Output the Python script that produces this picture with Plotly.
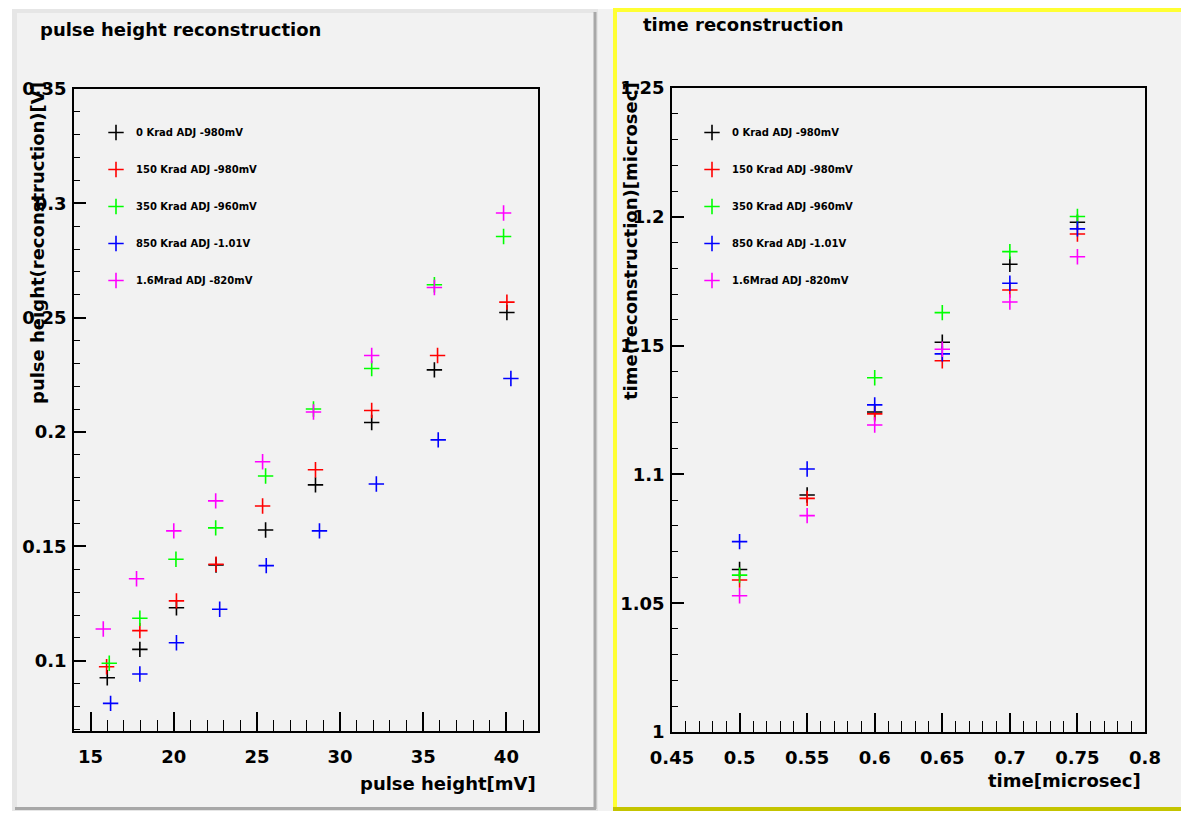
import plotly.graph_objects as go

W, H = 1189, 814
OFF = 8  # page body margin of the html page

# ---------------- data ----------------
series_names = ["0 Krad ADJ -980mV", "150 Krad ADJ -980mV", "350 Krad ADJ -960mV",
                "850 Krad ADJ -1.01V", "1.6Mrad ADJ -820mV"]
series_colors = ["#000000", "#ff0000", "#00ff00", "#0000ff", "#ff00ff"]

# pulse height reconstruction (x: pulse height [mV], y: reconstructed [V])
ph_black_x = [16.0, 17.96, 20.16, 22.54, 25.52, 28.52, 31.9, 35.67, 40.03]
ph_black_y = [0.0926, 0.1050, 0.1232, 0.1419, 0.1572, 0.1769, 0.2042, 0.2272, 0.2523]
ph_red_x = [15.96, 17.96, 20.16, 22.54, 25.34, 28.52, 31.9, 35.86, 40.03]
ph_red_y = [0.0974, 0.1132, 0.1262, 0.1422, 0.1677, 0.1835, 0.2094, 0.2335, 0.2568]
ph_green_x = [16.12, 17.96, 20.13, 22.52, 25.52, 28.4, 31.9, 35.67, 39.83]
ph_green_y = [0.0989, 0.1186, 0.1444, 0.1581, 0.1808, 0.2101, 0.2278, 0.2644, 0.2855]
ph_blue_x = [16.2, 17.96, 20.16, 22.76, 25.56, 28.76, 32.18, 35.9, 40.27]
ph_blue_y = [0.0814, 0.0942, 0.1079, 0.1225, 0.1416, 0.1568, 0.1773, 0.1966, 0.2234]
ph_magenta_x = [15.76, 17.76, 20.0, 22.52, 25.34, 28.4, 31.9, 35.67, 39.83]
ph_magenta_y = [0.1139, 0.1359, 0.1568, 0.1699, 0.1870, 0.2088, 0.2335, 0.2632, 0.2958]

# time reconstruction (x: time [microsec], y: reconstructed [microsec])
time_x = [0.5, 0.55, 0.6, 0.65, 0.7, 0.75]
t_black_y = [1.0631, 1.0920, 1.1242, 1.1513, 1.1816, 1.1979]
t_red_y = [1.0590, 1.0907, 1.1235, 1.1441, 1.1716, 1.1933]
t_green_y = [1.0609, None, 1.1375, 1.1628, 1.1865, 1.2001]
t_blue_y = [1.0739, 1.1021, 1.1270, 1.1468, 1.1742, 1.1953]
t_magenta_y = [1.0529, 1.0840, 1.1192, 1.1486, 1.1669, 1.1845]

ph_x_range = [14.0, 41.9]
ph_y_range = [0.0693, 0.35]
t_x_range = [0.45, 0.8]
t_y_range = [1.0, 1.25]

# ---------------- helpers ----------------
def fx(px):
    return (px - OFF) / W

def fy(py):
    return 1 - (py - OFF) / H

FONT = "DejaVu Sans, Verdana, sans-serif"

fig = go.Figure()

ph_sets = [(ph_black_x, ph_black_y), (ph_red_x, ph_red_y), (ph_green_x, ph_green_y),
           (ph_blue_x, ph_blue_y), (ph_magenta_x, ph_magenta_y)]
t_sets = [t_black_y, t_red_y, t_green_y, t_blue_y, t_magenta_y]

def mk(color):
    return dict(symbol="cross-thin", size=11, color=color,
                line=dict(color=color, width=1.6))

for i, (xs, ys) in enumerate(ph_sets):
    fig.add_trace(go.Scatter(x=xs, y=ys, mode="markers", name=series_names[i],
                             marker=mk(series_colors[i]), xaxis="x", yaxis="y",
                             legend="legend", legendgroup="a%d" % i))
for i, ys in enumerate(t_sets):
    fig.add_trace(go.Scatter(x=time_x, y=ys, mode="markers", name=series_names[i],
                             marker=mk(series_colors[i]), xaxis="x2", yaxis="y2",
                             legend="legend2", legendgroup="b%d" % i))

tickfont = dict(family=FONT, size=18, color="#000000", weight="bold")

def xaxis(dom, rng, dtick, mdtick, anchor, tick0):
    return dict(domain=dom, range=rng, dtick=dtick, tick0=tick0,
                ticks="inside", ticklen=19, tickwidth=1.5, tickcolor="#000",
                minor=dict(ticks="inside", ticklen=11, dtick=mdtick, tickwidth=1.3, tickcolor="#000"),
                showgrid=False, zeroline=False, showline=True, linecolor="#000", linewidth=1.5,
                mirror=True, tickfont=tickfont, anchor=anchor, ticklabelstandoff=9,
                automargin=False, fixedrange=True)

def yaxis(dom, rng, dtick, mdtick, anchor):
    return dict(domain=dom, range=rng, dtick=dtick, tick0=0,
                ticks="inside", ticklen=12, tickwidth=1.5, tickcolor="#000",
                minor=dict(ticks="inside", ticklen=6, dtick=mdtick, tickwidth=1.3, tickcolor="#000"),
                showgrid=False, zeroline=False, showline=True, linecolor="#000", linewidth=1.5,
                mirror=True, tickfont=tickfont, anchor=anchor, ticklabelstandoff=2,
                automargin=False, fixedrange=True)

xa1 = xaxis([fx(74), fx(538)], ph_x_range, 5, 1, "y", 15)
ya1 = yaxis([fy(731), fy(89)], ph_y_range, 0.05, 0.01, "x")
xa2 = xaxis([fx(672), fx(1145)], t_x_range, 0.05, 0.01, "y2", 0.45)
ya2 = yaxis([fy(732), fy(88)], t_y_range, 0.05, 0.01, "x2")

PAD = "#f2f2f2"
shapes = [
    dict(type="rect", xref="paper", yref="paper", x0=0, x1=1, y0=fy(9), y1=1,
         fillcolor="#ffffff", line=dict(width=0), layer="below"),
    dict(type="rect", xref="paper", yref="paper", x0=0, x1=fx(12), y0=0, y1=1,
         fillcolor="#ffffff", line=dict(width=0), layer="below"),
    dict(type="rect", xref="paper", yref="paper", x0=0, x1=1, y0=0, y1=fy(811),
         fillcolor="#ffffff", line=dict(width=0), layer="below"),
    dict(type="rect", xref="paper", yref="paper", x0=fx(12), x1=fx(598), y0=fy(811), y1=fy(9),
         fillcolor="#e6e6e6", line=dict(width=0), layer="below"),
    dict(type="rect", xref="paper", yref="paper", x0=fx(17), x1=fx(594), y0=fy(807), y1=fy(13),
         fillcolor=PAD, line=dict(width=0), layer="below"),
    dict(type="line", xref="paper", yref="paper", x0=fx(595), x1=fx(595), y0=fy(809), y1=fy(12),
         line=dict(color="#a8a8a8", width=3), layer="below"),
    dict(type="line", xref="paper", yref="paper", x0=fx(15), x1=fx(596), y0=fy(808.5), y1=fy(808.5),
         line=dict(color="#a8a8a8", width=3), layer="below"),
    dict(type="rect", xref="paper", yref="paper", x0=fx(613), x1=1, y0=fy(811), y1=fy(8),
         fillcolor=PAD, line=dict(width=0), layer="below"),
    dict(type="line", xref="paper", yref="paper", x0=fx(615), x1=fx(615), y0=fy(811), y1=fy(8),
         line=dict(color="#ffff33", width=4), layer="below"),
    dict(type="line", xref="paper", yref="paper", x0=fx(613), x1=1, y0=fy(10), y1=fy(10),
         line=dict(color="#ffff33", width=4), layer="below"),
    dict(type="line", xref="paper", yref="paper", x0=fx(613), x1=1, y0=fy(809), y1=fy(809),
         line=dict(color="#c4c400", width=4), layer="below"),
]

tfont = dict(family=FONT, size=18, color="#000", weight="bold")
annotations = [
    dict(text="pulse height reconstruction", x=fx(38), y=fy(29), xref="paper", yref="paper",
         xanchor="left", yanchor="middle", showarrow=False, font=tfont),
    dict(text="time reconstruction", x=fx(641), y=fy(25), xref="paper", yref="paper",
         xanchor="left", yanchor="middle", showarrow=False, font=tfont),
    dict(text="pulse height[mV]", x=fx(538), y=fy(783), xref="paper", yref="paper",
         xanchor="right", yanchor="middle", showarrow=False, font=tfont),
    dict(text="time[microsec]", x=fx(1143), y=fy(780), xref="paper", yref="paper",
         xanchor="right", yanchor="middle", showarrow=False, font=tfont),
    dict(text="pulse height(reconstruction)[V]", x=fx(38), y=fy(80), xref="paper", yref="paper",
         xanchor="center", yanchor="top", textangle=-90, showarrow=False, font=tfont),
    dict(text="time(reconstruction)[microsec]", x=fx(631), y=fy(80), xref="paper", yref="paper",
         xanchor="center", yanchor="top", textangle=-90, showarrow=False, font=tfont),
]

legfont = dict(family=FONT, size=10, color="#000", weight="bold")

fig.update_layout(
    width=W, height=H,
    margin=dict(l=0, r=0, t=0, b=0, autoexpand=False),
    paper_bgcolor=PAD, plot_bgcolor=PAD,
    xaxis=xa1, yaxis=ya1, xaxis2=xa2, yaxis2=ya2,
    shapes=shapes, annotations=annotations,
    showlegend=True,
    legend=dict(x=fx(96), y=fy(118), xanchor="left", yanchor="top", bgcolor="rgba(0,0,0,0)",
                font=legfont, tracegroupgap=18, itemwidth=30),
    legend2=dict(x=fx(692), y=fy(118), xanchor="left", yanchor="top", bgcolor="rgba(0,0,0,0)",
                 font=legfont, tracegroupgap=18, itemwidth=30),
)

fig.write_html("out.html")
